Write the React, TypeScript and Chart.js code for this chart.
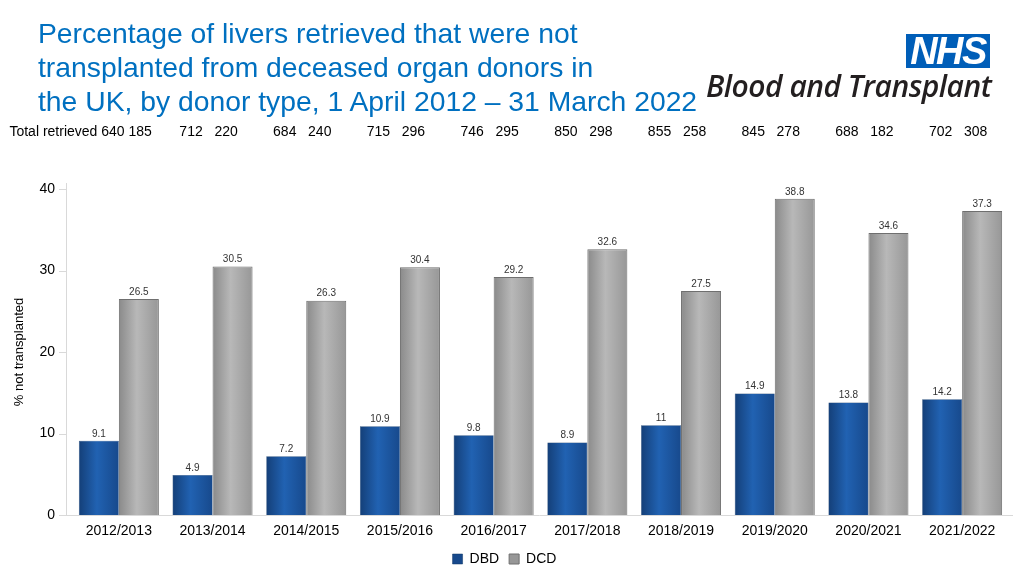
import React, { useEffect, useRef } from "react";
import { Chart, registerables } from "chart.js";

Chart.register(...registerables);

const categories = [
  "2012/2013", "2013/2014", "2014/2015", "2015/2016", "2016/2017",
  "2017/2018", "2018/2019", "2019/2020", "2020/2021", "2021/2022",
];
const dbdValues = [9.1, 4.9, 7.2, 10.9, 9.8, 8.9, 11, 14.9, 13.8, 14.2];
const dcdValues = [26.5, 30.5, 26.3, 30.4, 29.2, 32.6, 27.5, 38.8, 34.6, 37.3];
const dbdRetrieved = [640, 712, 684, 715, 746, 850, 855, 845, 688, 702];
const dcdRetrieved = [185, 220, 240, 296, 295, 298, 258, 278, 182, 308];
const yTicks = [0, 10, 20, 30, 40];
const titleLines = [
  "Percentage of livers retrieved that were not",
  "transplanted from deceased organ donors in",
  "the UK, by donor type, 1 April 2012 \u2013 31 March 2022",
];

const FONT = "'Liberation Sans', Arial, Helvetica, sans-serif";
const CAT_PCT = 0.854;
const BLUE_STOPS = ["#143f78", "#2162b2", "#17498c"];
const GREY_STOPS = ["#8a8a8a", "#b8b8b8", "#979797"];

function barFill(ctx: any, dsIndex: number, stops: string[]) {
  const chart = ctx.chart;
  const xs = chart.scales && chart.scales.x;
  if (!xs || ctx.type !== "data" || !xs.width) return stops[1];
  const cat = xs.width / categories.length;
  const bw = (cat * CAT_PCT) / 2;
  const center = xs.getPixelForValue(ctx.dataIndex);
  const left = dsIndex === 0 ? center - bw : center;
  const g = chart.ctx.createLinearGradient(left, 0, left + bw, 0);
  g.addColorStop(0, stops[0]);
  g.addColorStop(0.45, stops[1]);
  g.addColorStop(1, stops[2]);
  return g;
}

const axesPlugin = {
  id: "customAxes",
  beforeDatasetsDraw(chart: any) {
    const { ctx, chartArea, scales } = chart;
    const ys = scales.y;
    const x0 = chartArea.left - 6;
    ctx.save();
    ctx.strokeStyle = "#d9d9d9";
    ctx.lineWidth = 1;
    ctx.beginPath();
    ctx.moveTo(x0 + 0.5, chartArea.top - 6);
    ctx.lineTo(x0 + 0.5, chartArea.bottom);
    yTicks.forEach((t) => {
      const y = Math.round(ys.getPixelForValue(t)) + 0.5;
      ctx.moveTo(x0 - 7, y);
      ctx.lineTo(x0, y);
    });
    const yb = Math.round(ys.getPixelForValue(0)) + 0.5;
    ctx.moveTo(x0, yb);
    ctx.lineTo(chartArea.right + 4, yb);
    ctx.stroke();
    ctx.restore();
  },
};

const valueLabelPlugin = {
  id: "valueLabels",
  afterDatasetsDraw(chart: any) {
    const { ctx } = chart;
    ctx.save();
    ctx.font = `10px ${FONT}`;
    ctx.fillStyle = "#333333";
    ctx.textAlign = "center";
    ctx.textBaseline = "bottom";
    chart.data.datasets.forEach((ds: any, di: number) => {
      const meta = chart.getDatasetMeta(di);
      meta.data.forEach((el: any, i: number) => {
        ctx.fillText(String(ds.data[i]), el.x, el.y - 2);
      });
    });
    ctx.restore();
  },
};

const totalsPlugin = {
  id: "totalsRow",
  afterDraw(chart: any) {
    const { ctx, scales } = chart;
    const xs = scales.x;
    ctx.save();
    ctx.font = `14px ${FONT}`;
    ctx.fillStyle = "#000000";
    ctx.textBaseline = "middle";
    const y = 132;
    categories.forEach((_, i) => {
      const cx = xs.getPixelForValue(i);
      if (i === 0) {
        ctx.textAlign = "right";
        ctx.fillText(`Total retrieved ${dbdRetrieved[i]} ${dcdRetrieved[i]}`, cx + 33, y);
      } else {
        ctx.textAlign = "center";
        ctx.fillText(`${dbdRetrieved[i]}   ${dcdRetrieved[i]}`, cx - 4, y);
      }
    });
    ctx.restore();
  },
};

export default function App() {
  const canvasRef = useRef<HTMLCanvasElement | null>(null);

  useEffect(() => {
    if (!canvasRef.current) return;
    Chart.defaults.font.family = FONT;
    const chart = new Chart(canvasRef.current, {
      type: "bar",
      data: {
        labels: categories,
        datasets: [
          {
            label: "DBD",
            data: dbdValues,
            backgroundColor: (c: any) => barFill(c, 0, BLUE_STOPS),
            borderColor: "#0f3565",
            borderWidth: 0.5,
            categoryPercentage: CAT_PCT,
            barPercentage: 1,
          },
          {
            label: "DCD",
            data: dcdValues,
            backgroundColor: (c: any) => barFill(c, 1, GREY_STOPS),
            borderColor: "#6f6f6f",
            borderWidth: 1,
            categoryPercentage: CAT_PCT,
            barPercentage: 1,
          },
        ],
      },
      options: {
        responsive: false,
        devicePixelRatio: 1,
        animation: false,
        layout: { padding: { top: 189, left: 0, right: 15, bottom: 0 } },
        scales: {
          x: {
            grid: { display: false },
            border: { display: false },
            ticks: { font: { size: 14 }, color: "#000", padding: 0, maxRotation: 0 },
            afterFit: (s: any) => {
              s.height = 27;
            },
          },
          y: {
            min: 0,
            max: 40,
            grid: { display: false },
            border: { display: false },
            ticks: { stepSize: 10, font: { size: 14 }, color: "#000", padding: 9 },
            title: {
              display: true,
              text: "% not transplanted",
              font: { size: 13 },
              color: "#000",
              padding: { top: 12, bottom: 0 },
            },
            afterFit: (s: any) => {
              s.width = 72;
            },
          },
        },
        plugins: {
          legend: {
            position: "bottom",
            labels: {
              boxWidth: 10,
              boxHeight: 10,
              font: { size: 14 },
              color: "#000",
              padding: 10,
            },
          },
          tooltip: { enabled: false },
        },
      },
      plugins: [axesPlugin, valueLabelPlugin, totalsPlugin],
    });
    return () => chart.destroy();
  }, []);

  return (
    <div style={{ position: "absolute", left: 0, top: 0, width: 1024, height: 576, background: "#fff", overflow: "hidden" }}>
      <canvas ref={canvasRef} width={1024} height={576} style={{ position: "absolute", left: 0, top: 0 }} />
      <div
        style={{
          position: "absolute",
          left: 38,
          top: 16,
          fontFamily: FONT,
          fontSize: 28.3,
          lineHeight: "34px",
          color: "#0070c0",
          whiteSpace: "nowrap",
        }}
      >
        {titleLines.map((l, i) => (
          <div key={i}>{l}</div>
        ))}
      </div>
      <div
        style={{
          position: "absolute",
          left: 906,
          top: 34,
          width: 84,
          height: 34,
          background: "#005eb8",
          color: "#fff",
          fontFamily: FONT,
          fontWeight: 700,
          fontStyle: "italic",
          fontSize: 38,
          lineHeight: "35px",
          textAlign: "center",
          letterSpacing: -1.5,
        }}
      >
        NHS
      </div>
      <div
        style={{
          position: "absolute",
          left: 706,
          top: 66,
          fontFamily: "'Open Sans', sans-serif",
          fontWeight: 600,
          fontStyle: "italic",
          fontSize: 30,
          lineHeight: "40px",
          color: "#231f20",
          whiteSpace: "nowrap",
          letterSpacing: -0.5,
        }}
      >
        Blood and Transplant
      </div>
    </div>
  );
}
